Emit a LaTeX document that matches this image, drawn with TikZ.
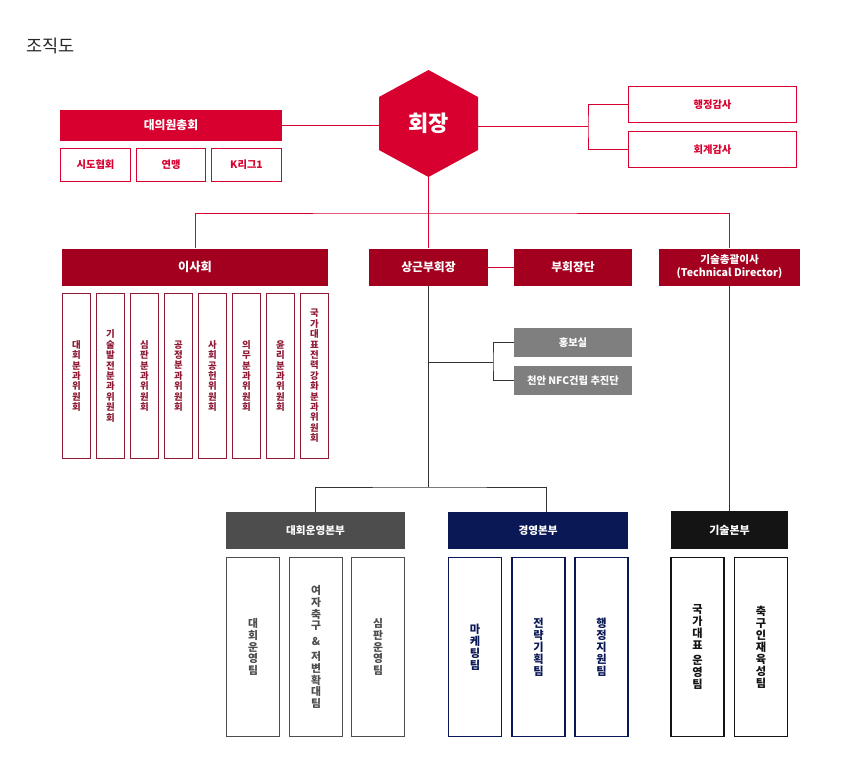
\documentclass[tikz,border=0pt]{standalone}
\usepackage{fontspec}
\setmainfont{Noto Sans CJK KR}
\usetikzlibrary{calc}
\definecolor{redA}{HTML}{D7002F}
\definecolor{redB}{HTML}{A3001F}
\definecolor{redC}{HTML}{8E1A33}
\definecolor{grayA}{HTML}{7F7F7F}
\definecolor{grayB}{HTML}{4D4D4D}
\definecolor{navy}{HTML}{0B1856}
\definecolor{blk}{HTML}{141414}
\definecolor{linegray}{HTML}{333333}
\newcommand{\myfs}[1]{\fontsize{#1}{#1}\selectfont}
\begin{document}
\begin{tikzpicture}[x=1pt,y=-1pt,
  box/.style={rectangle, inner sep=0pt, align=center},
  hdr/.style={box, fill=#1, text=white, font=\bfseries\myfs{11.8}},
  obox/.style={box, draw=#1, line width=1.2pt, fill=white, text=#1, font=\bfseries\myfs{10.3}},
  vbox/.style={box, draw=#1, line width=1.2pt, fill=white, text=#1},
  comm/.style={vbox=redC, minimum width=28pt, minimum height=165pt, font=\bfseries\fontsize{9.4}{10.4}\selectfont},
  subbox/.style={vbox=#1, minimum width=53pt, minimum height=179pt, font=\bfseries\fontsize{10.8}{11.6}\selectfont},
  redline/.style={draw=redA, line width=1pt},
  blkline/.style={draw=linegray, line width=1pt}]
\fill[white] (0,0) rectangle (849,769);
\useasboundingbox (0,0) rectangle (849,769);

\node[anchor=west, font=\myfs{17.5}, text=black!85] (title) at (23,46) {조직도};

% president hexagon
\fill[redA] (428.5,70) -- (478,97) -- (478,150) -- (428.5,177) -- (379,150) -- (379,97) -- cycle;
\node[box, minimum width=99pt, minimum height=107pt, text=white, font=\bfseries\myfs{22}] (pres) at (428.5,123.5) {회장};

% assembly
\node[hdr=redA, minimum width=222pt, minimum height=31pt] (assembly) at (171,125) {대의원총회};
\node[obox=redA, minimum width=70pt, minimum height=33pt] (sido) at (95.5,165) {시도협회};
\node[obox=redA, minimum width=69pt, minimum height=33pt] (league) at (171,165) {연맹};
\node[obox=redA, minimum width=70pt, minimum height=33pt] (kl) at (246.5,165) {K리그1};

% audits
\node[obox=redA, minimum width=168pt, minimum height=36pt] (audit1) at (712.5,104.5) {행정감사};
\node[obox=redA, minimum width=168pt, minimum height=36pt] (audit2) at (712.5,149.5) {회계감사};

% second row
\node[hdr=redB, minimum width=266pt, minimum height=37pt, font=\bfseries\myfs{12.2}] (board) at (195,267) {이사회};
\node[hdr=redB, minimum width=119pt, minimum height=37pt] (vp) at (428.5,267) {상근부회장};
\node[hdr=redB, minimum width=118pt, minimum height=37pt] (vpg) at (573,267) {부회장단};
\node[hdr=redB, minimum width=141pt, minimum height=37pt, font=\bfseries\fontsize{10.6}{12.8}\selectfont] (tech) at (729.5,267) {기술총괄이사\\(Technical Director)};

% committees
\node[comm] (c1) at (76.5,376) {대\\회\\분\\과\\위\\원\\회};
\node[comm] (c2) at (110.5,376) {기\\술\\발\\전\\분\\과\\위\\원\\회};
\node[comm] (c3) at (144.5,376) {심\\판\\분\\과\\위\\원\\회};
\node[comm] (c4) at (178.5,376) {공\\정\\분\\과\\위\\원\\회};
\node[comm] (c5) at (212.5,376) {사\\회\\공\\헌\\위\\원\\회};
\node[comm] (c6) at (246.5,376) {의\\무\\분\\과\\위\\원\\회};
\node[comm] (c7) at (280.5,376) {윤\\리\\분\\과\\위\\원\\회};
\node[comm] (c8) at (314.5,376) {국\\가\\대\\표\\전\\력\\강\\화\\분\\과\\위\\원\\회};

% gray offices
\node[hdr=grayA, minimum width=118pt, minimum height=29pt, font=\bfseries\myfs{10.3}] (pr) at (573,342.5) {홍보실};
\node[hdr=grayA, minimum width=118pt, minimum height=29pt, font=\bfseries\myfs{10.3}] (nfc) at (573,380.5) {천안 NFC건립 추진단};

% divisions
\node[hdr=grayB, minimum width=179pt, minimum height=37pt, font=\bfseries\myfs{10.6}] (ops) at (315.5,530.5) {대회운영본부};
\node[hdr=navy, minimum width=180pt, minimum height=37pt, font=\bfseries\myfs{10.6}] (mgmt) at (538,530.5) {경영본부};
\node[hdr=blk, minimum width=117pt, minimum height=38pt, font=\bfseries\myfs{11}] (techd) at (729.5,530) {기술본부};

% teams
\node[subbox=grayB] (t1) at (253,647) {대\\회\\운\\영\\팀};
\node[subbox=grayB] (t2) at (316,647) {여\\자\\축\\구\\[4pt]\&\\[4pt]저\\변\\확\\대\\팀};
\node[subbox=grayB] (t3) at (378,647) {심\\판\\운\\영\\팀};
\node[subbox=navy, font=\bfseries\fontsize{11.2}{12}\selectfont] (t4) at (475,647) {마\\케\\팅\\팀};
\node[subbox=navy, font=\bfseries\fontsize{11.2}{12}\selectfont] (t5) at (538.5,647) {전\\략\\기\\획\\팀};
\node[subbox=navy, font=\bfseries\fontsize{11.2}{12}\selectfont] (t6) at (601.5,647) {행\\정\\지\\원\\팀};
\node[subbox=blk, font=\bfseries\fontsize{11.2}{12}\selectfont] (t7) at (697.5,647) {국\\가\\대\\표\\[3pt]운\\영\\팀};
\node[subbox=blk, font=\bfseries\fontsize{11.2}{12}\selectfont] (t8) at (761,647) {축\\구\\인\\재\\육\\성\\팀};

% connectors (red)
\coordinate (ja) at (588,126);
\draw[redline] (pres.east |- ja) -- (ja);
\draw[redline] (audit1.west) -| (ja) |- (audit2.west);
\draw[redline] (assembly.east) -- (assembly.east -| pres.west);
\coordinate (jm) at (428.5,213);
\draw[redline] (pres.south) -- (vp.north);
\draw[redline] (board.north) |- (jm) -| (tech.north);
\draw[redline] (vp.east) -- (vpg.west);

% connectors (dark)
\coordinate (jv) at (428.5,362);
\coordinate (jb) at (493,362);
\coordinate (jl) at (428.5,487);
\draw[blkline] (vp.south) -- (jl);
\draw[blkline] (jv) -- (jb);
\draw[blkline] (pr.west) -| (jb) |- (nfc.west);
\draw[blkline] (ops.north) |- (jl) -| ([xshift=8pt]mgmt.north);
\draw[blkline] (tech.south) -- (techd.north);
\end{tikzpicture}
\end{document}
